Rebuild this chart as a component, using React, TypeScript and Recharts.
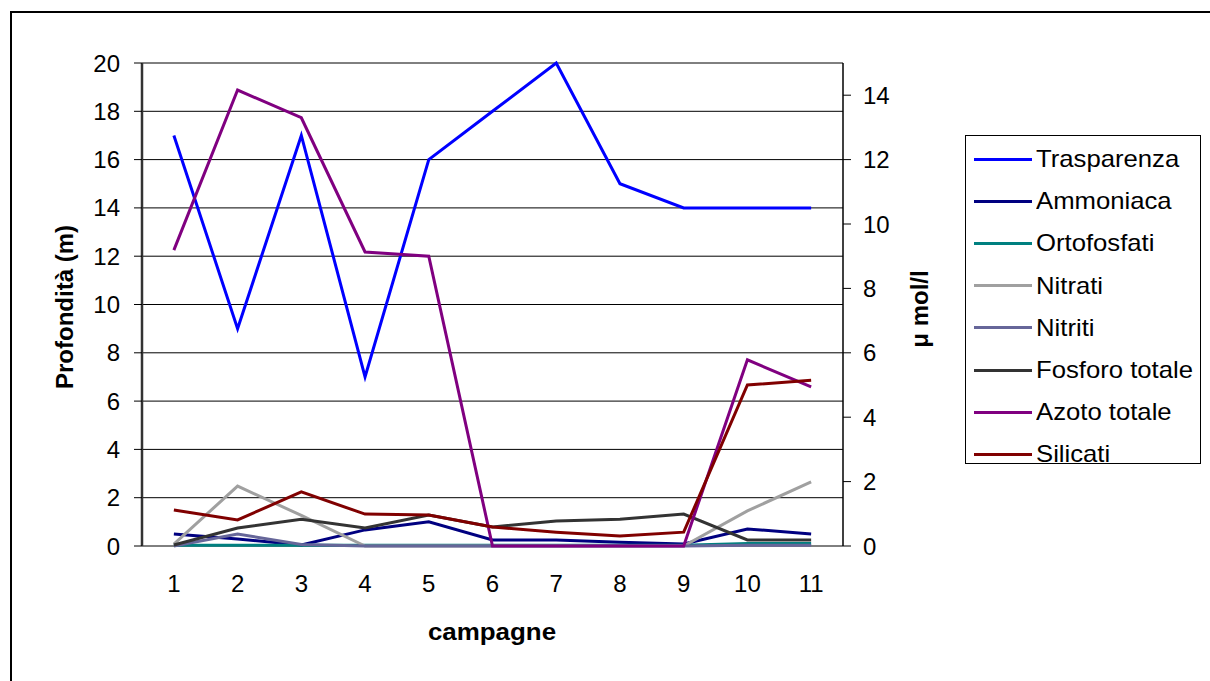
import React from 'react';
import { LineChart, Line, XAxis, YAxis, CartesianGrid } from 'recharts';

const campagne = [1, 2, 3, 4, 5, 6, 7, 8, 9, 10, 11];
const boundaryTicks = [0.5, 1.5, 2.5, 3.5, 4.5, 5.5, 6.5, 7.5, 8.5, 9.5, 10.5, 11.5];
const leftTicks = [0, 2, 4, 6, 8, 10, 12, 14, 16, 18, 20];
const rightTicks = [0, 2, 4, 6, 8, 10, 12, 14];

const trasparenza = [17, 9, 17, 7, 16, 18, 20, 15, 14, 14, 14];
const ammoniaca = [0.37, 0.22, 0.03, 0.5, 0.75, 0.19, 0.19, 0.12, 0.06, 0.53, 0.37];
const ortofosfati = [0.02, 0.02, 0.02, 0.02, 0.02, 0.02, 0.02, 0.02, 0.02, 0.08, 0.08];
const nitrati = [0.06, 1.86, 0.95, 0, 0, 0, 0, 0, 0, 1.09, 1.99];
const nitriti = [0, 0.37, 0.05, 0, 0, 0, 0, 0, 0, 0.02, 0.02];
const fosforo = [0.03, 0.56, 0.83, 0.56, 0.96, 0.59, 0.78, 0.83, 0.99, 0.19, 0.19];
const azoto = [9.19, 14.16, 13.3, 9.13, 9.0, 0, 0, 0, 0, 5.78, 4.94];
const silicati = [1.12, 0.81, 1.68, 0.99, 0.96, 0.59, 0.43, 0.31, 0.43, 5.0, 5.15];

const series = [
  { key: 'Trasparenza', values: trasparenza, color: '#0000FF', axis: 'left' },
  { key: 'Ammoniaca', values: ammoniaca, color: '#000080', axis: 'right' },
  { key: 'Ortofosfati', values: ortofosfati, color: '#008080', axis: 'right' },
  { key: 'Nitrati', values: nitrati, color: '#A0A0A0', axis: 'right' },
  { key: 'Nitriti', values: nitriti, color: '#666699', axis: 'right' },
  { key: 'Fosforo totale', values: fosforo, color: '#333333', axis: 'right' },
  { key: 'Azoto totale', values: azoto, color: '#800080', axis: 'right' },
  { key: 'Silicati', values: silicati, color: '#800000', axis: 'right' },
];

const data = campagne.map((c, i) => {
  const row: Record<string, number> = { c };
  series.forEach((s) => {
    row[s.key] = s.values[i];
  });
  return row;
});

const FONT = '"Liberation Sans", Arial, sans-serif';
const tickStyle = { fontSize: 24, fill: '#000', fontFamily: FONT };

export default function App() {
  return (
    <div style={{ position: 'absolute', left: 0, top: 0, width: 1210, height: 681, background: '#fff', overflow: 'hidden', fontFamily: FONT }}>
      <div style={{ position: 'absolute', left: 10, top: 11, width: 1220, height: 700, border: '2px solid #000', boxSizing: 'border-box' }} />
      <div style={{ position: 'absolute', left: 0, top: 0 }}>
        <LineChart width={1210} height={681} data={data} margin={{ top: 63, right: 0, left: 0, bottom: 75 }}>
          <CartesianGrid horizontal vertical={false} stroke="#000" strokeWidth={1} yAxisId="left" xAxisId="m" />
          <XAxis
            xAxisId="m"
            dataKey="c"
            type="number"
            domain={[0.5, 11.5]}
            ticks={boundaryTicks}
            height={0}
            tick={() => <g />}
            tickSize={7}
            tickLine={{ stroke: '#000', strokeWidth: 1 }}
            axisLine={{ stroke: '#000', strokeWidth: 2 }}
          />
          <XAxis
            xAxisId="l"
            dataKey="c"
            type="number"
            domain={[0.5, 11.5]}
            ticks={campagne}
            height={60}
            tickSize={0}
            tickMargin={29}
            tickLine={false}
            axisLine={false}
            tick={tickStyle}
          />
          <YAxis
            yAxisId="left"
            orientation="left"
            width={142}
            domain={[0, 20]}
            ticks={leftTicks}
            tickSize={8}
            tickMargin={14}
            tick={tickStyle}
            tickLine={{ stroke: '#000', strokeWidth: 1 }}
            axisLine={{ stroke: '#333', strokeWidth: 2.5 }}
          />
          <YAxis
            yAxisId="right"
            orientation="right"
            width={367}
            domain={[0, 15]}
            ticks={rightTicks}
            tickSize={8}
            tickMargin={12}
            tick={tickStyle}
            tickLine={{ stroke: '#000', strokeWidth: 1 }}
            axisLine={{ stroke: '#000', strokeWidth: 1.5 }}
          />
          {series.map((s) => (
            <Line
              key={s.key}
              xAxisId="m"
              yAxisId={s.axis}
              dataKey={s.key}
              stroke={s.color}
              strokeWidth={3}
              dot={false}
              isAnimationActive={false}
              type="linear"
            />
          ))}
        </LineChart>
      </div>
      <div style={{ position: 'absolute', left: 65, top: 307, transform: 'translate(-50%, -50%) rotate(-90deg)', whiteSpace: 'nowrap', fontWeight: 'bold', fontSize: 24 }}>
        Profondità (m)
      </div>
      <div style={{ position: 'absolute', left: 920, top: 309, transform: 'translate(-50%, -50%) rotate(-90deg)', whiteSpace: 'nowrap', fontWeight: 'bold', fontSize: 24 }}>
        μ mol/l
      </div>
      <div style={{ position: 'absolute', left: 492, top: 632, transform: 'translate(-50%, -50%) scaleX(1.08)', whiteSpace: 'nowrap', fontWeight: 'bold', fontSize: 24 }}>
        campagne
      </div>
      <div style={{ position: 'absolute', left: 965, top: 135, width: 236, height: 329, border: '1px solid #000', boxSizing: 'border-box', paddingTop: 2 }}>
        {series.map((s) => (
          <div key={s.key} style={{ height: 42.2, display: 'flex', alignItems: 'center' }}>
            <div style={{ marginLeft: 8, width: 58, height: 3, background: s.color }} />
            <div style={{ marginLeft: 4, fontSize: 24, whiteSpace: 'nowrap', transform: 'scaleX(1.07)', transformOrigin: 'left center' }}>{s.key}</div>
          </div>
        ))}
      </div>
    </div>
  );
}
